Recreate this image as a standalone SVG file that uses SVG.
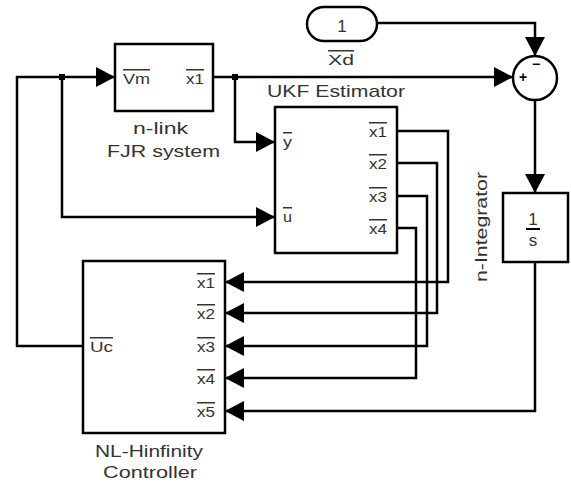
<svg xmlns="http://www.w3.org/2000/svg" width="571" height="484" viewBox="0 0 571 484">
  <style>
    .blk { fill: #ffffff; stroke: #000000; stroke-width: 2.5; }
    .wire { fill: none; stroke: #000000; stroke-width: 2.5; }
    .lbl { font-family: "Liberation Sans", Arial, Helvetica, sans-serif; font-size: 17px; fill: #333333; }
    .port { font-family: "Liberation Sans", Arial, Helvetica, sans-serif; font-size: 15px; fill: #333333; text-decoration: overline; }
    .num { font-family: "Liberation Sans", Arial, Helvetica, sans-serif; font-size: 17px; fill: #333333; text-anchor: middle; }
    .sign { font-family: "Liberation Sans", Arial, Helvetica, sans-serif; font-size: 14px; font-weight: bold; fill: #000000; text-anchor: middle; }
  </style>
  <defs>
    <marker id="arrow" markerUnits="userSpaceOnUse" markerWidth="19" markerHeight="20" refX="19" refY="10" orient="auto" viewBox="0 0 19 20">
      <path d="M0,0 L19,10 L0,20 Z" fill="#000000"/>
    </marker>
  </defs>

  <rect width="571" height="484" fill="#ffffff"/>

  <!-- signal lines -->
  <g id="connectors">
    <!-- plant output to summing junction -->
    <path class="wire" d="M213,77 L513,77" marker-end="url(#arrow)"/>
    <!-- plant output branch to estimator y -->
    <path class="wire" d="M235,77 L235,142 L275,142" marker-end="url(#arrow)"/>
    <!-- control signal back to plant input -->
    <path class="wire" d="M83,346 L17,346 L17,77 L115,77" marker-end="url(#arrow)"/>
    <!-- control branch to estimator u -->
    <path class="wire" d="M62,77 L62,217 L275,217" marker-end="url(#arrow)"/>
    <!-- reference to summing junction -->
    <path class="wire" d="M377,23 L535,23 L535,56" marker-end="url(#arrow)"/>
    <!-- error to integrator -->
    <path class="wire" d="M535,100 L535,193" marker-end="url(#arrow)"/>
    <!-- estimated states to controller -->
    <path class="wire" d="M397,131 L448,131 L448,282 L225,282" marker-end="url(#arrow)"/>
    <path class="wire" d="M397,163 L437,163 L437,313 L225,313" marker-end="url(#arrow)"/>
    <path class="wire" d="M397,196 L427,196 L427,346 L225,346" marker-end="url(#arrow)"/>
    <path class="wire" d="M397,228 L416,228 L416,378 L225,378" marker-end="url(#arrow)"/>
    <!-- integrator output to controller x5 -->
    <path class="wire" d="M535,262 L535,411 L225,411" marker-end="url(#arrow)"/>
    <!-- branch points -->
    <rect x="59" y="74" width="6" height="6" fill="#000000"/>
    <rect x="232" y="74" width="6" height="6" fill="#000000"/>
  </g>

  <!-- plant -->
  <g id="fjr-system">
    <rect class="blk" x="115" y="44" width="98" height="67"/>
    <text class="port" x="123" y="84" textLength="27" lengthAdjust="spacingAndGlyphs">Vm</text>
    <text class="port" x="186" y="84" textLength="18" lengthAdjust="spacingAndGlyphs">x1</text>
    <text class="lbl" x="133" y="134" textLength="55" lengthAdjust="spacingAndGlyphs">n-link</text>
    <text class="lbl" x="107" y="157" textLength="113" lengthAdjust="spacingAndGlyphs">FJR system</text>
  </g>

  <!-- reference constant -->
  <g id="xd-constant">
    <rect class="blk" x="307" y="7" width="70" height="34" rx="17" ry="17"/>
    <text class="num" x="342" y="32">1</text>
    <text class="port" x="328" y="65" font-size="16" textLength="26" lengthAdjust="spacingAndGlyphs">Xd</text>
  </g>

  <!-- summing junction -->
  <g id="sum">
    <circle class="blk" cx="535" cy="78" r="22"/>
    <text class="sign" x="523" y="82">+</text>
    <text class="sign" x="536" y="69">−</text>
  </g>

  <!-- estimator -->
  <g id="ukf-estimator">
    <rect class="blk" x="275" y="107" width="122" height="146"/>
    <text class="lbl" x="267" y="97" textLength="138" lengthAdjust="spacingAndGlyphs">UKF Estimator</text>
    <text class="port" x="283" y="147" textLength="9" lengthAdjust="spacingAndGlyphs">y</text>
    <text class="port" x="283" y="222" textLength="9" lengthAdjust="spacingAndGlyphs">u</text>
    <text class="port" x="369" y="137" textLength="18" lengthAdjust="spacingAndGlyphs">x1</text>
    <text class="port" x="369" y="169" textLength="18" lengthAdjust="spacingAndGlyphs">x2</text>
    <text class="port" x="369" y="202" textLength="18" lengthAdjust="spacingAndGlyphs">x3</text>
    <text class="port" x="369" y="234" textLength="18" lengthAdjust="spacingAndGlyphs">x4</text>
  </g>

  <!-- integrator -->
  <g id="n-integrator">
    <rect class="blk" x="503" y="193" width="65" height="69"/>
    <text class="num" x="533" y="225">1</text>
    <line x1="526" y1="229" x2="540" y2="229" stroke="#000000" stroke-width="2"/>
    <text class="num" x="533" y="246">s</text>
    <text class="lbl" transform="translate(487,227) rotate(-90)" x="0" y="0" text-anchor="middle" textLength="110" lengthAdjust="spacingAndGlyphs">n-Integrator</text>
  </g>

  <!-- controller -->
  <g id="nl-hinfinity-controller">
    <rect class="blk" x="83" y="261" width="142" height="172"/>
    <text class="port" x="90" y="352" textLength="23" lengthAdjust="spacingAndGlyphs">Uc</text>
    <text class="port" x="197" y="288" textLength="18" lengthAdjust="spacingAndGlyphs">x1</text>
    <text class="port" x="197" y="319" textLength="18" lengthAdjust="spacingAndGlyphs">x2</text>
    <text class="port" x="197" y="352" textLength="18" lengthAdjust="spacingAndGlyphs">x3</text>
    <text class="port" x="197" y="384" textLength="18" lengthAdjust="spacingAndGlyphs">x4</text>
    <text class="port" x="197" y="417" textLength="18" lengthAdjust="spacingAndGlyphs">x5</text>
    <text class="lbl" x="95" y="457" textLength="108" lengthAdjust="spacingAndGlyphs">NL-Hinfinity</text>
    <text class="lbl" x="103" y="478" textLength="94" lengthAdjust="spacingAndGlyphs">Controller</text>
  </g>
</svg>
